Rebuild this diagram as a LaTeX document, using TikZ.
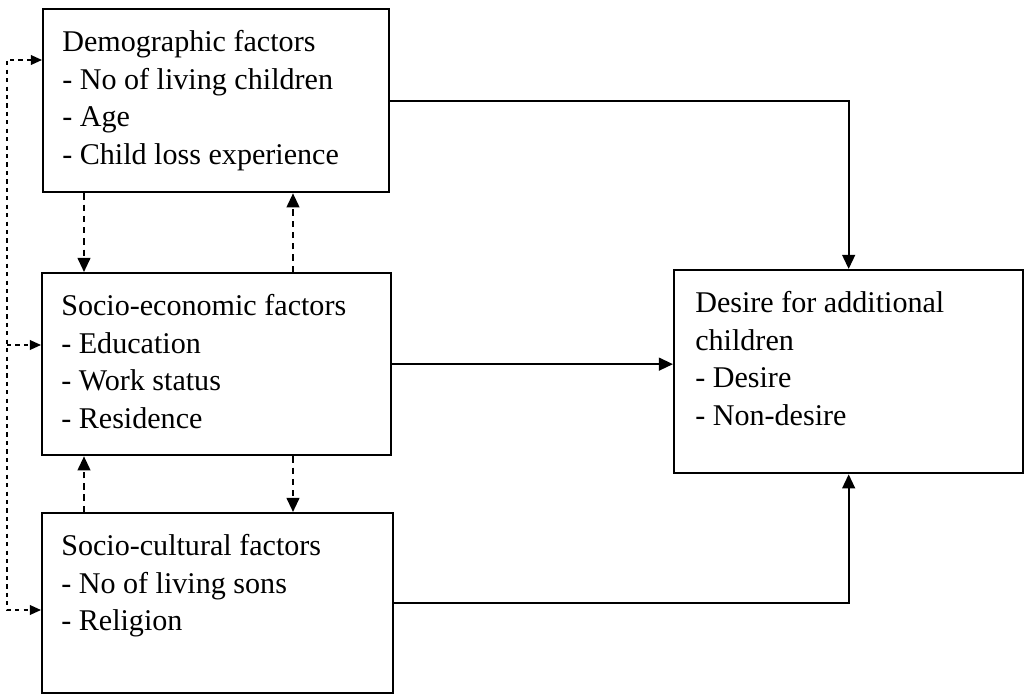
\documentclass[tikz,border=0pt]{standalone}
\usepackage{fontspec}
\setmainfont{Liberation Serif}
\usetikzlibrary{arrows.meta,positioning}
\tikzset{>={Triangle[length=10pt,width=9pt]}}

\begin{document}
\begin{tikzpicture}[x=0.025cm,y=-0.025cm]
	\tikzset{box/.style={draw, shape=rectangle, line width=1.6pt, anchor=north west, inner sep=0pt},
		boxtext/.style={anchor=north west, align=left, inner sep=0pt, font=\fontsize{21.4}{26.8}\selectfont},
		flow/.style={->, line width=1.6pt},
		dashflow/.style={->, line width=1.5pt, dash pattern=on 4.5pt off 3.5pt},
		busflow/.style={dashflow, line width=1pt, dash pattern=on 3pt off 3pt, >={Triangle[length=8pt,width=7pt]}},
	}
	\useasboundingbox (0,0) rectangle (1026,694);
	% boxes
	\node [box, minimum width=8.65cm, minimum height=4.575cm] (demo) at (42,8) {};
	\node [box, minimum width=8.725cm, minimum height=4.55cm] (econ) at (41,272) {};
	\node [box, minimum width=8.775cm, minimum height=4.5cm] (cult) at (41,512) {};
	\node [box, minimum width=8.725cm, minimum height=5.075cm] (desire) at (673,269) {};
	% texts
	\node [boxtext, below right=0.55cm and 0.5cm of demo.north west] (demotext) {Demographic factors\\- No of living children\\- Age\\- Child loss experience};
	\node [boxtext, below right=0.55cm and 0.5cm of econ.north west] (econtext) {Socio-economic factors\\- Education\\- Work status\\- Residence};
	\node [boxtext, below right=0.55cm and 0.5cm of cult.north west] (culttext) {Socio-cultural factors\\- No of living sons\\- Religion};
	\node [boxtext, below right=0.55cm and 0.55cm of desire.north west] (desiretext) {Desire for additional\\children\\- Desire\\- Non-desire};
	% dashed links between the factor boxes
	\coordinate (lcol) at (84,0);
	\coordinate (rcol) at (293,0);
	\draw [dashflow] (demo.south -| lcol) -- (econ.north -| lcol);
	\draw [dashflow] (econ.north -| rcol) -- (demo.south -| rcol);
	\draw [dashflow] (econ.south -| rcol) -- (cult.north -| rcol);
	\draw [dashflow] (cult.north -| lcol) -- (econ.south -| lcol);
	% dashed bus on the left
	\coordinate (bustop) at (7,60);
	\coordinate (busmid) at (7,345);
	\coordinate (busbot) at (7,610);
	\draw [busflow, <->] (bustop -| demo.west) -- (bustop) -- (busbot) -- (busbot -| cult.west);
	\draw [busflow] (busmid) -- (busmid -| econ.west);
	% solid links to the outcome
	\draw [flow] (demo.east) -| (desire.north);
	\draw [flow] (econ.east) -- (econ.east -| desire.west);
	\draw [flow] (cult.east) -| (desire.south);
\end{tikzpicture}
\end{document}
